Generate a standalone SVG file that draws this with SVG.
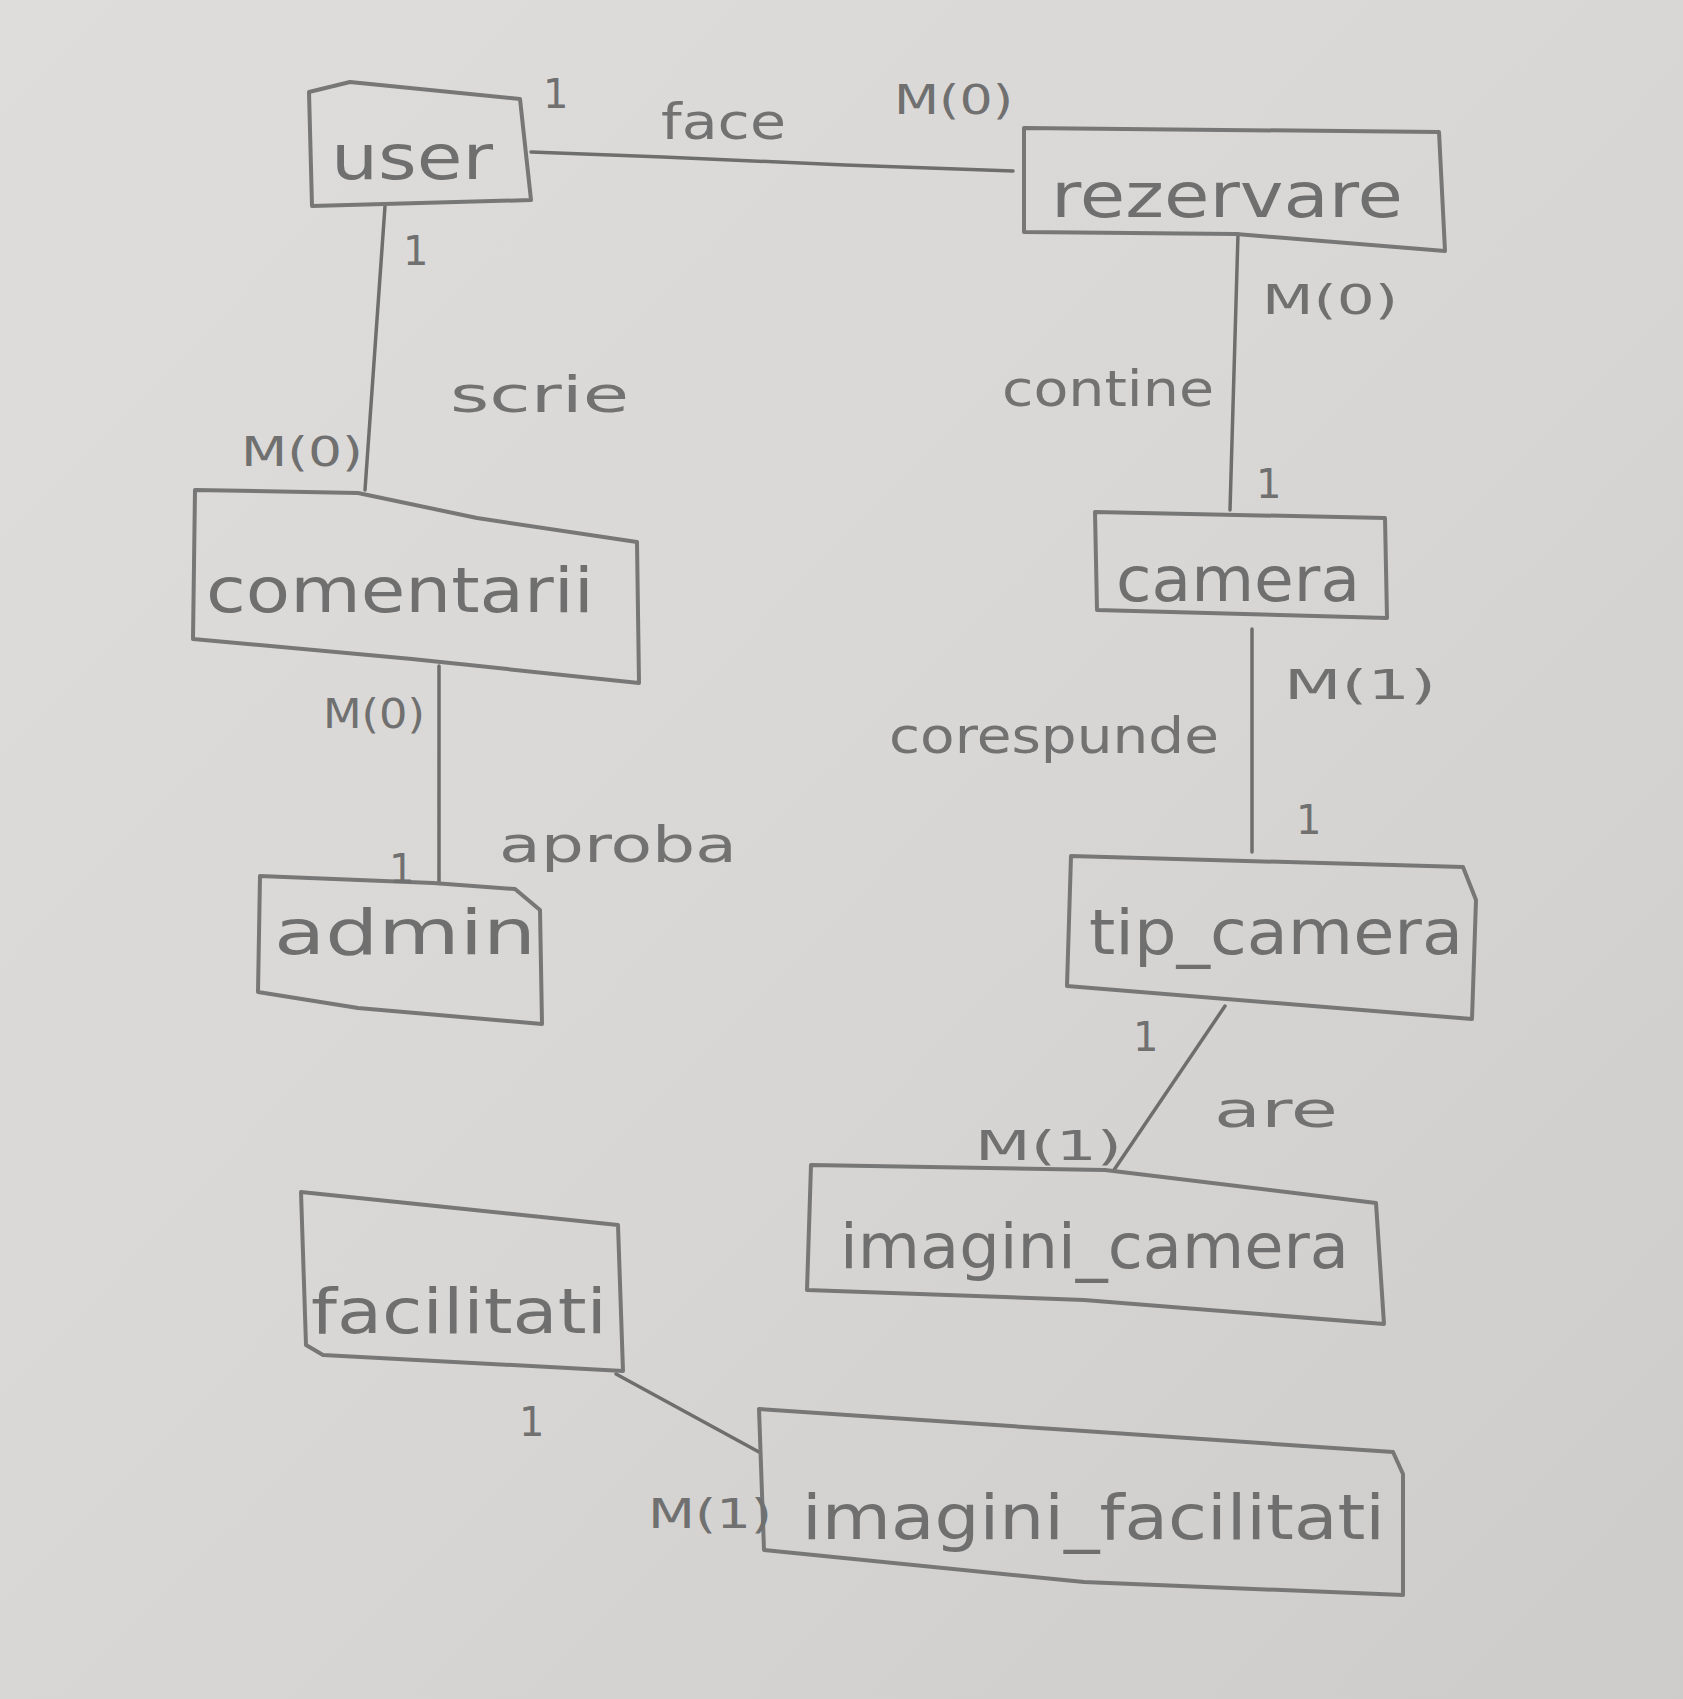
<svg xmlns="http://www.w3.org/2000/svg" width="1683" height="1699" viewBox="0 0 1683 1699">
<defs>
<linearGradient id="paper" x1="0" y1="0" x2="1" y2="1">
<stop offset="0" stop-color="#dedddb"/>
<stop offset="0.5" stop-color="#d8d7d5"/>
<stop offset="1" stop-color="#cdccca"/>
</linearGradient>
<style>
.box{fill:none;stroke:#777777;stroke-width:4;stroke-linejoin:round;stroke-linecap:round}
.conn{fill:none;stroke:#6e6e6e;stroke-width:3.5;stroke-linecap:round}
.ent{font-family:"DejaVu Sans","Liberation Sans",sans-serif;font-size:62px;fill:#6f6f6f}
.lbl{font-family:"DejaVu Sans","Liberation Sans",sans-serif;font-size:50px;fill:#727272}
.card{font-family:"DejaVu Sans","Liberation Sans",sans-serif;font-size:40px;fill:#707070}
</style>
</defs>
<rect width="1683" height="1699" fill="url(#paper)"/>
<g id="connectors">
<path class="conn" d="M531,152 L663,157 L845,165 L1013,171"/>
<path class="conn" d="M385,206 L365,490"/>
<path class="conn" d="M439,666 L439,883"/>
<path class="conn" d="M1238,234 L1230,510"/>
<path class="conn" d="M1252,629 L1252,852"/>
<path class="conn" d="M1225,1006 L1114,1170"/>
<path class="conn" d="M616,1374 L759,1452"/>
</g>
<g id="user">
<path class="box" d="M309,92 L350,82 L520,99 L531,200 L312,206 Z"/>
<text class="ent" x="331" y="179" textLength="162" lengthAdjust="spacingAndGlyphs">user</text>
</g>
<g id="rezervare">
<path class="box" d="M1024,128 L1439,132 L1445,251 L1236,234 L1024,232 Z"/>
<text class="ent" x="1051" y="217" textLength="352" lengthAdjust="spacingAndGlyphs">rezervare</text>
</g>
<g id="comentarii">
<path class="box" d="M195,490 L358,493 L477,518 L637,542 L639,683 L412,659 L193,639 Z"/>
<text class="ent" x="206" y="612" textLength="388" lengthAdjust="spacingAndGlyphs">comentarii</text>
</g>
<g id="admin">
<path class="box" d="M260,876 L433,883 L515,889 L540,910 L542,1024 L358,1008 L258,992 Z"/>
<text class="ent" x="274" y="954" textLength="262" lengthAdjust="spacingAndGlyphs">admin</text>
</g>
<g id="camera">
<path class="box" d="M1095,512 L1385,518 L1387,618 L1097,610 Z"/>
<text class="ent" x="1116" y="601" textLength="244" lengthAdjust="spacingAndGlyphs">camera</text>
</g>
<g id="tip_camera">
<path class="box" d="M1071,856 L1463,867 L1476,900 L1472,1019 L1067,986 Z"/>
<text class="ent" x="1089" y="954" textLength="374" lengthAdjust="spacingAndGlyphs">tip_camera</text>
</g>
<g id="imagini_camera">
<path class="box" d="M811,1165 L1105,1170 L1376,1203 L1384,1324 L1084,1300 L807,1290 Z"/>
<text class="ent" x="840" y="1268" textLength="509" lengthAdjust="spacingAndGlyphs">imagini_camera</text>
</g>
<g id="facilitati">
<path class="box" d="M301,1192 L455,1208 L618,1225 L623,1371 L323,1355 L306,1345 Z"/>
<text class="ent" x="311" y="1333" textLength="296" lengthAdjust="spacingAndGlyphs">facilitati</text>
</g>
<g id="imagini_facilitati">
<path class="box" d="M759,1409 L1084,1431 L1393,1452 L1403,1474 L1403,1595 L1084,1582 L764,1550 Z"/>
<text class="ent" x="802" y="1539" textLength="583" lengthAdjust="spacingAndGlyphs">imagini_facilitati</text>
</g>
<g id="labels">
<text class="lbl" x="661" y="139" textLength="125" lengthAdjust="spacingAndGlyphs">face</text>
<text class="card" x="543" y="108">1</text>
<text class="card" x="894" y="114" textLength="119" lengthAdjust="spacingAndGlyphs">M(0)</text>
<text class="card" x="403" y="265">1</text>
<text class="lbl" x="450" y="412" textLength="179" lengthAdjust="spacingAndGlyphs">scrie</text>
<text class="card" x="241" y="466" textLength="122" lengthAdjust="spacingAndGlyphs">M(0)</text>
<text class="card" x="323" y="728" textLength="102" lengthAdjust="spacingAndGlyphs">M(0)</text>
<text class="lbl" x="499" y="862" textLength="238" lengthAdjust="spacingAndGlyphs">aproba</text>
<text class="card" x="389" y="883">1</text>
<text class="card" x="1262" y="314" textLength="136" lengthAdjust="spacingAndGlyphs">M(0)</text>
<text class="lbl" x="1002" y="406" textLength="212" lengthAdjust="spacingAndGlyphs">contine</text>
<text class="card" x="1256" y="498">1</text>
<text class="card" x="1284" y="699" textLength="152" lengthAdjust="spacingAndGlyphs">M(1)</text>
<text class="lbl" x="889" y="753" textLength="330" lengthAdjust="spacingAndGlyphs">corespunde</text>
<text class="card" x="1296" y="834">1</text>
<text class="card" x="1133" y="1051">1</text>
<text class="lbl" x="1214" y="1127" textLength="124" lengthAdjust="spacingAndGlyphs">are</text>
<text class="card" x="975" y="1160" textLength="147" lengthAdjust="spacingAndGlyphs">M(1)</text>
<text class="card" x="519" y="1436">1</text>
<text class="card" x="648" y="1528" textLength="124" lengthAdjust="spacingAndGlyphs">M(1)</text>
</g>
</svg>
